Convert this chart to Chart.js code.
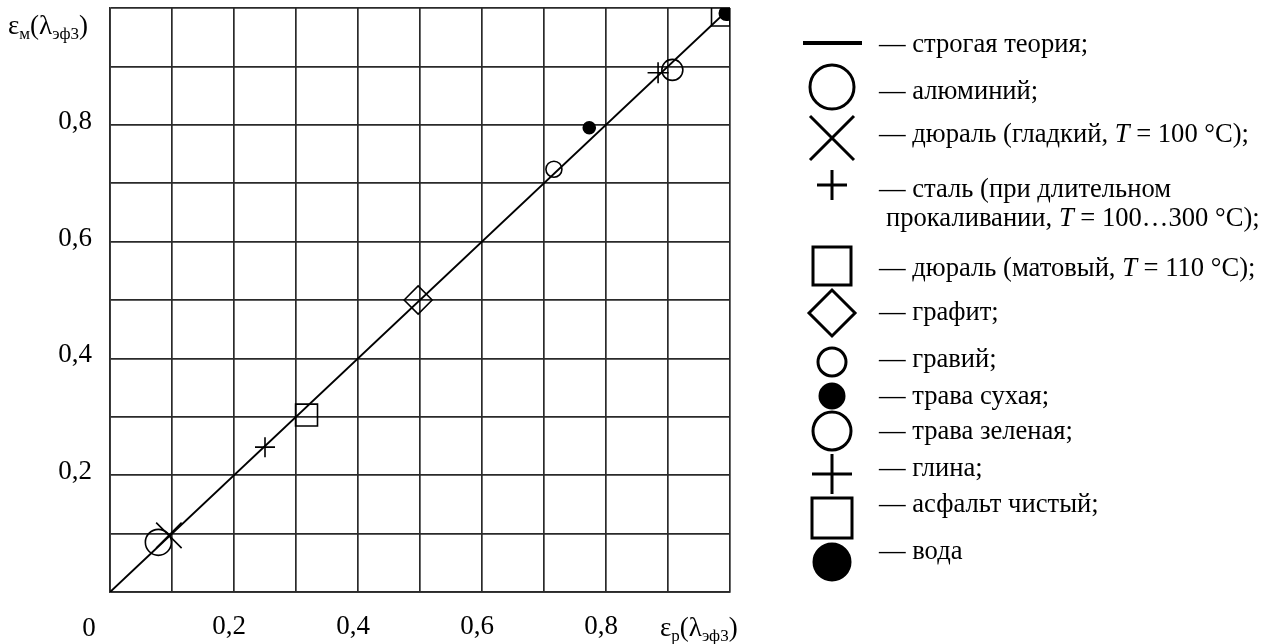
<!DOCTYPE html>
<html lang="ru">
<head>
    <meta charset="UTF-8">
    <title>Сравнение измеренной и расчётной излучательной способности</title>
    <script src="https://cdn.jsdelivr.net/npm/chart.js"></script>
    <style>
        body { margin: 0; background: #fff; }
        .wrap { position: relative; width: 1268px; height: 644px; overflow: hidden; }
        #emChart { position: absolute; left: 0; top: 0; }
        .legend { position: absolute; left: 0; top: 0; width: 1268px; height: 644px;
                  font-family: "Liberation Serif", "Times New Roman", serif; font-size: 26.6px; color: #000; }
        .legend .txt { position: absolute; white-space: nowrap; line-height: 29px; }
        .legend svg { position: absolute; left: 0; top: 0; }
    </style>
</head>
<body>
<div class="wrap">
    <canvas id="emChart" width="1268" height="644"></canvas>
    <div class="legend" id="legend"></div>
</div>

<script>
// strict theory: eps_m = eps_p
const theoryX = [0, 1];
const theoryY = [0, 1];

// materials, in legend order
const materialNames = [
    'алюминий',
    'дюраль (гладкий, T = 100 °C)',
    'сталь (при длительном|прокаливании, T = 100…300 °C)',
    'дюраль (матовый, T = 110 °C)',
    'графит',
    'гравий',
    'трава сухая',
    'трава зеленая',
    'глина',
    'асфальт чистый',
    'вода'
];
// calculated emissivity eps_p (x) and measured eps_m (y)
const epsCalc = [0.078, 0.095, 0.250, 0.317, 0.497, 0.716, 0.773, 0.907, 0.884, 0.985, 0.994];
const epsMeas = [0.085, 0.097, 0.248, 0.303, 0.500, 0.724, 0.795, 0.894, 0.889, 0.985, 0.991];

// axis ticks
const tickValues = [0.2, 0.4, 0.6, 0.8];

const SERIF = '"Liberation Serif", "Times New Roman", serif';
const INK = '#000';
const GRID = '#2a2a2a';

// marker look for each material (chart marker, legend icon)
const looks = [
    { style: 'circle',   r: 13,   fill: false, icon: { r: 22 } },
    { style: 'crossRot', r: 18,   fill: false, icon: { r: 22 } },
    { style: 'cross',    r: 10,   fill: false, icon: { r: 15 } },
    { style: 'rect',     r: 15.5, fill: false, icon: { r: 19 } },
    { style: 'rectRot',  r: 14,   fill: false, icon: { r: 23 } },
    { style: 'circle',   r: 8,    fill: false, icon: { r: 14 } },
    { style: 'circle',   r: 6,    fill: true,  icon: { r: 12 } },
    { style: 'circle',   r: 10.5, fill: false, icon: { r: 19 } },
    { style: 'cross',    r: 10.5, fill: false, icon: { r: 20 } },
    { style: 'rect',     r: 13,   fill: false, icon: { r: 20 } },
    { style: 'circle',   r: 7,    fill: true,  icon: { r: 18 } }
];

const isLabelled = v => tickValues.some(t => Math.abs(t - v) < 1e-6);
const fmt = v => v.toFixed(1).replace('.', ',');

const datasets = [{
    type: 'line',
    label: 'строгая теория',
    data: theoryX.map((x, i) => ({ x: x, y: theoryY[i] })),
    borderColor: INK,
    borderWidth: 2,
    pointRadius: 0,
    fill: false
}];
materialNames.forEach((name, i) => {
    const lk = looks[i];
    datasets.push({
        type: 'scatter',
        label: name.replace('|', ' '),
        data: [{ x: epsCalc[i], y: epsMeas[i] }],
        pointStyle: lk.style,
        pointRadius: lk.r,
        pointHoverRadius: lk.r,
        pointBorderWidth: 1.6,
        pointBorderColor: INK,
        pointBackgroundColor: lk.fill ? INK : 'rgba(0,0,0,0)'
    });
});

// axis titles with subscripts and the corner "0"
function drawParts(ctx, x, y, parts) {
    parts.forEach(p => {
        ctx.font = (p[1] ? 17 : 27) + 'px ' + SERIF;
        ctx.fillText(p[0], x, y + (p[1] ? 5 : 0));
        x += ctx.measureText(p[0]).width;
    });
}
const axisTitles = {
    id: 'axisTitles',
    afterDraw(chart) {
        const ctx = chart.ctx;
        const xs = chart.scales.x, ys = chart.scales.y;
        ctx.save();
        ctx.fillStyle = INK;
        ctx.textBaseline = 'alphabetic';
        ctx.textAlign = 'left';
        drawParts(ctx, 8, ys.getPixelForValue(1) + 26, [['ε', 0], ['м', 1], ['(λ', 0], ['эф3', 1], [')', 0]]);
        drawParts(ctx, xs.getPixelForValue(1) - 70, 636, [['ε', 0], ['р', 1], ['(λ', 0], ['эф3', 1], [')', 0]]);
        ctx.font = '27px ' + SERIF;
        ctx.textAlign = 'center';
        ctx.fillText('0', xs.getPixelForValue(0) - 21, 636);
        ctx.restore();
    }
};

const tickFont = { family: SERIF, size: 27 };

new Chart(document.getElementById('emChart'), {
    data: { datasets: datasets },
    options: {
        responsive: false,
        animation: false,
        events: [],
        layout: { autoPadding: false, padding: { left: 0, top: 8, right: 538, bottom: 0 } },
        plugins: { legend: { display: false }, tooltip: { enabled: false } },
        scales: {
            x: {
                type: 'linear', min: 0, max: 1,
                grid: { color: GRID, lineWidth: 1.7, drawTicks: false },
                border: { color: GRID, width: 1.7 },
                ticks: { stepSize: 0.1, autoSkip: false, maxRotation: 0, padding: 19, labelOffset: -5, color: INK,
                         font: tickFont, callback: v => isLabelled(v) ? fmt(v) : '' },
                afterFit: s => { s.height = 52; s.paddingLeft = 0; s.paddingRight = 0; }
            },
            y: {
                type: 'linear', min: 0, max: 1,
                grid: { color: GRID, lineWidth: 1.7, drawTicks: false },
                border: { color: GRID, width: 1.7 },
                ticks: { stepSize: 0.1, autoSkip: false, padding: 18, labelOffset: -3, color: INK,
                         font: tickFont, callback: v => isLabelled(v) ? fmt(v) : '' },
                afterFit: s => { s.width = 110; s.paddingTop = 0; s.paddingBottom = 0; }
            }
        }
    },
    plugins: [axisTitles]
});

// legend to the right of the plot
const legendRows = [
    { icon: 'line', iy: 43,  ty: 43 },
    { iy: 87,  ty: 90 },
    { iy: 138, ty: 133 },
    { iy: 185, ty: 188 },
    { iy: 266, ty: 267 },
    { iy: 313, ty: 311 },
    { iy: 362, ty: 358 },
    { iy: 396, ty: 395 },
    { iy: 431, ty: 430 },
    { iy: 474, ty: 467 },
    { iy: 518, ty: 503 },
    { iy: 562, ty: 550 }
];
function iconSvg(style, fill, cx, cy, r) {
    const sw = 'stroke="#000" stroke-width="3" fill="' + (fill ? '#000' : 'none') + '"';
    switch (style) {
        case 'line': return '<line x1="803" y1="' + cy + '" x2="862" y2="' + cy + '" stroke="#000" stroke-width="4"/>';
        case 'circle': return '<circle cx="' + cx + '" cy="' + cy + '" r="' + r + '" ' + sw + '/>';
        case 'crossRot': return '<path d="M' + (cx - r) + ' ' + (cy - r) + 'L' + (cx + r) + ' ' + (cy + r) +
            'M' + (cx + r) + ' ' + (cy - r) + 'L' + (cx - r) + ' ' + (cy + r) + '" ' + sw + '/>';
        case 'cross': return '<path d="M' + (cx - r) + ' ' + cy + 'H' + (cx + r) + 'M' + cx + ' ' + (cy - r) + 'V' + (cy + r) + '" ' + sw + '/>';
        case 'rect': return '<rect x="' + (cx - r) + '" y="' + (cy - r) + '" width="' + 2 * r + '" height="' + 2 * r + '" ' + sw + '/>';
        case 'rectRot': return '<path d="M' + (cx - r) + ' ' + cy + 'L' + cx + ' ' + (cy - r) + 'L' + (cx + r) + ' ' + cy +
            'L' + cx + ' ' + (cy + r) + 'Z" ' + sw + '/>';
    }
    return '';
}
const italT = s => s.replace('T =', '<i>T</i> =');
let svg = '<svg width="1268" height="644" xmlns="http://www.w3.org/2000/svg">';
let html = '';
legendRows.forEach((row, k) => {
    let label;
    if (k === 0) {
        svg += iconSvg('line', false, 832, row.iy, 0);
        label = datasets[0].label;
    } else {
        const lk = looks[k - 1];
        svg += iconSvg(lk.style, lk.fill, 832, row.iy, lk.icon.r);
        label = materialNames[k - 1];
    }
    const end = k === legendRows.length - 1 ? '' : ';';
    const lines = label.split('|');
    if (lines.length > 1) {
        html += '<div class="txt" style="left:879px;top:' + (row.ty - 14) + 'px">— ' + italT(lines[0]) +
            '<br><span style="margin-left:7px">' + italT(lines[1]) + end + '</span></div>';
    } else {
        html += '<div class="txt" style="left:879px;top:' + (row.ty - 14) + 'px">— ' + italT(lines[0]) + end + '</div>';
    }
});
svg += '</svg>';
document.getElementById('legend').innerHTML = svg + html;
</script>
</body>
</html>
